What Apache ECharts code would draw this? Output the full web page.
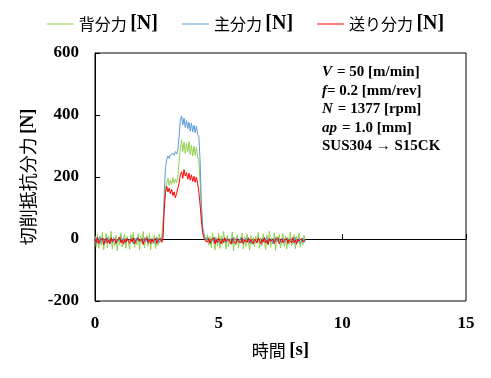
<!DOCTYPE html>
<html>
<head>
<meta charset="utf-8">
<script src="https://cdn.jsdelivr.net/npm/echarts@6/dist/echarts.min.js"></script>
<style>html,body{margin:0;padding:0;background:#fff;}#c{width:491px;height:378px;}</style>
</head>
<body>
<div id="c"></div>
<script>
// time [s]
const times = [
  0.00,0.05,0.10,0.15,0.20,0.25,0.30,0.35,0.40,0.45,0.50,0.55,0.60,0.65,0.70,0.75,0.80,0.85,0.90,0.95,
  1.00,1.05,1.10,1.15,1.20,1.25,1.30,1.35,1.40,1.45,1.50,1.55,1.60,1.65,1.70,1.75,1.80,1.85,1.90,1.95,
  2.00,2.05,2.10,2.15,2.20,2.25,2.30,2.35,2.40,2.45,2.50,2.55,2.60,2.65,2.70,
  2.75,2.80,2.85,2.90,2.95,3.00,3.05,3.10,3.15,3.20,3.25,3.30,3.35,3.40,3.45,3.50,3.55,3.60,3.65,3.70,
  3.75,3.80,3.85,3.90,3.95,4.00,4.05,4.10,4.15,4.20,4.25,4.30,4.35,4.40,4.45,4.50,
  4.55,4.60,4.65,4.70,4.75,4.80,4.85,4.90,4.95,5.00,5.05,5.10,5.15,5.20,5.25,5.30,5.35,5.40,5.45,5.50,
  5.55,5.60,5.65,5.70,5.75,5.80,5.85,5.90,5.95,6.00,6.05,6.10,6.15,6.20,6.25,6.30,6.35,6.40,6.45,6.50,
  6.55,6.60,6.65,6.70,6.75,6.80,6.85,6.90,6.95,7.00,7.05,7.10,7.15,7.20,7.25,7.30,7.35,7.40,7.45,7.50,
  7.55,7.60,7.65,7.70,7.75,7.80,7.85,7.90,7.95,8.00,8.05,8.10,8.15,8.20,8.25,8.30,8.35,8.40,8.45,8.50
];
// 背分力 [N]
const backForce = [
  10,-25,15,-30,5,-20,22,-35,-5,18,-28,8,-15,25,-32,0,-22,12,-38,6,-18,20,-26,-4,15,-30,8,-12,-33,14,-6,21,-27,3,-19,17,-36,9,-14,24,-29,-2,11,-23,19,-34,4,-16,13,-31,7,-21,16,-8,10,
  10,110,165,180,196,172,190,176,198,180,193,182,203,250,292,320,282,312,276,308,280,314,272,302,268,300,270,296,265,250,180,90,30,20,8,-10,
  15,-20,8,-28,20,-12,-35,5,-22,18,-30,10,-18,24,-8,-33,12,-25,3,-15,22,-38,6,-20,14,-28,0,-12,19,-32,8,-24,16,-10,-36,11,-18,4,-26,9,
  -14,21,-30,6,-22,17,-9,-34,13,-19,25,-27,2,-16,20,-37,8,-11,15,-29,-3,18,-24,10,-33,5,-17,23,-21,-6,14,-31,9,-13,19,-26,1,-20,12,-8
];
// 主分力 [N]
const mainForce = [
  -6,4,-14,-2,8,-12,-5,3,-16,-1,6,-10,-8,2,-13,5,-4,-15,0,-9,7,-11,-3,4,-14,-6,1,-8,-13,3,-5,-16,2,-10,6,-7,-12,0,-4,-15,5,-9,-2,-14,3,-6,-11,1,-8,-17,4,-3,-12,2,-7,
  20,150,230,256,268,260,272,266,277,270,282,274,287,330,385,397,368,390,360,382,356,377,348,374,346,367,343,364,338,330,250,120,40,15,5,-2,
  5,-8,-3,-14,2,-10,6,-12,-4,1,-15,-6,3,-9,-2,-13,4,-7,-11,0,-16,5,-5,-10,2,-12,-3,6,-14,-1,-8,3,-11,-6,1,-15,-4,2,-9,-5,
  -12,4,-7,-2,-15,3,-9,-5,6,-13,-1,-10,2,-16,-4,5,-8,-12,0,-6,-14,3,-3,-11,4,-9,-15,1,-7,-2,-13,5,-10,-4,2,-16,-6,3,-11,-8
];
// 送り分力 [N]
const feedForce = [
  -2,-12,5,-15,-4,-10,3,-18,-6,2,-13,-3,-16,4,-8,-11,1,-14,-5,-9,6,-12,-3,-17,-1,-10,2,-7,-14,0,-9,4,-16,-5,-11,3,-8,-13,1,-18,-4,-7,5,-12,-2,-15,0,-10,-6,3,-14,-3,-9,2,-11,
  5,95,150,170,152,164,146,160,140,152,133,147,150,180,207,217,196,224,203,214,193,212,190,207,186,202,183,200,178,150,110,60,20,5,-5,-8,
  -10,2,-14,-4,-9,5,-16,-2,-11,3,-7,-15,-1,-12,4,-8,-13,0,-6,-17,2,-10,-4,-14,1,-9,-5,-12,3,-15,-3,-8,-11,4,-13,-2,-9,-16,0,-6,
  -12,3,-8,-15,-1,-10,5,-13,-4,-18,2,-7,-11,0,-14,-3,-9,4,-16,-6,1,-12,-5,-10,3,-15,-2,-8,-13,5,-11,-4,-17,0,-7,-12,2,-9,-14,-3
];
const seriesNames = ['背分力', '主分力', '送り分力'];
const seriesColors = ['#92D050', '#5B9BD5', '#FF0000'];
const seriesValues = [backForce, mainForce, feedForce];
const xTicks = { min: 0, max: 15, interval: 5 };
const yTicks = { min: -200, max: 600, interval: 200 };

const serif = '"Liberation Serif","Times New Roman",serif';
const jp = '"Noto Sans CJK JP","Noto Sans",sans-serif';

const chart = echarts.init(document.getElementById('c'), null, { renderer: 'canvas' });
chart.setOption({
  animation: false,
  backgroundColor: '#fff',
  grid: { left: 95, right: 25, top: 53, bottom: 77, show: true, borderColor: '#000', borderWidth: 1, containLabel: false },
  legend: {
    top: 9, left: 'center',
    icon: 'rect',
    itemWidth: 27, itemHeight: 1, itemGap: 24,
    data: seriesNames,
    formatter: n => '{a|' + n + '} {b|[N]}',
    textStyle: {
      rich: {
        a: { fontFamily: jp, fontSize: 16, color: '#000' },
        b: { fontFamily: serif, fontSize: 20, fontWeight: 'bold', color: '#000' }
      }
    }
  },
  title: {
    left: 322, top: 63, padding: 0,
    text: '{i|V} {n|= 50 [m/min]}\n{i|f}{n|= 0.2 [mm/rev]}\n{i|N} {n|= 1377 [rpm]}\n{i|ap} {n|= 1.0 [mm]}\n{n|SUS304 → S15CK}',
    textStyle: {
      lineHeight: 18.5,
      rich: {
        i: { fontFamily: serif, fontSize: 15, fontWeight: 'bold', fontStyle: 'italic', color: '#000', lineHeight: 18.5 },
        n: { fontFamily: serif, fontSize: 15, fontWeight: 'bold', color: '#000', lineHeight: 18.5 }
      }
    }
  },
  xAxis: {
    type: 'value', min: xTicks.min, max: xTicks.max, interval: xTicks.interval,
    name: '{a|時間} {b|[s]}', nameLocation: 'middle', nameGap: 40,
    nameTextStyle: { rich: {
      a: { fontFamily: jp, fontSize: 17, color: '#000' },
      b: { fontFamily: serif, fontSize: 19, fontWeight: 'bold', color: '#000' }
    } },
    axisLine: { show: true, lineStyle: { color: '#000', width: 1 } },
    axisTick: { show: true, inside: true, length: 5, lineStyle: { color: '#000' } },
    axisLabel: { fontFamily: serif, fontSize: 17, fontWeight: 'bold', color: '#000', margin: 14 },
    splitLine: { show: false }
  },
  yAxis: {
    type: 'value', min: yTicks.min, max: yTicks.max, interval: yTicks.interval,
    name: '{a|切削抵抗分力} {b|[N]}', nameLocation: 'middle', nameGap: 53, nameRotate: 90,
    nameTextStyle: { rich: {
      a: { fontFamily: jp, fontSize: 18, color: '#000' },
      b: { fontFamily: serif, fontSize: 18, fontWeight: 'bold', color: '#000' }
    } },
    axisLine: { show: true, lineStyle: { color: '#000', width: 1 } },
    axisTick: { show: true, inside: true, length: 5, lineStyle: { color: '#000' } },
    axisLabel: { fontFamily: serif, fontSize: 17, fontWeight: 'bold', color: '#000', margin: 16 },
    splitLine: { show: false }
  },
  series: seriesNames.map((name, k) => ({
    name: name,
    type: 'line',
    data: times.map((t, i) => [t, seriesValues[k][i]]),
    symbol: 'none',
    showSymbol: false,
    lineStyle: { color: seriesColors[k], width: 1 },
    itemStyle: { color: seriesColors[k] },
    z: 2 + k
  }))
});
</script>
</body>
</html>
